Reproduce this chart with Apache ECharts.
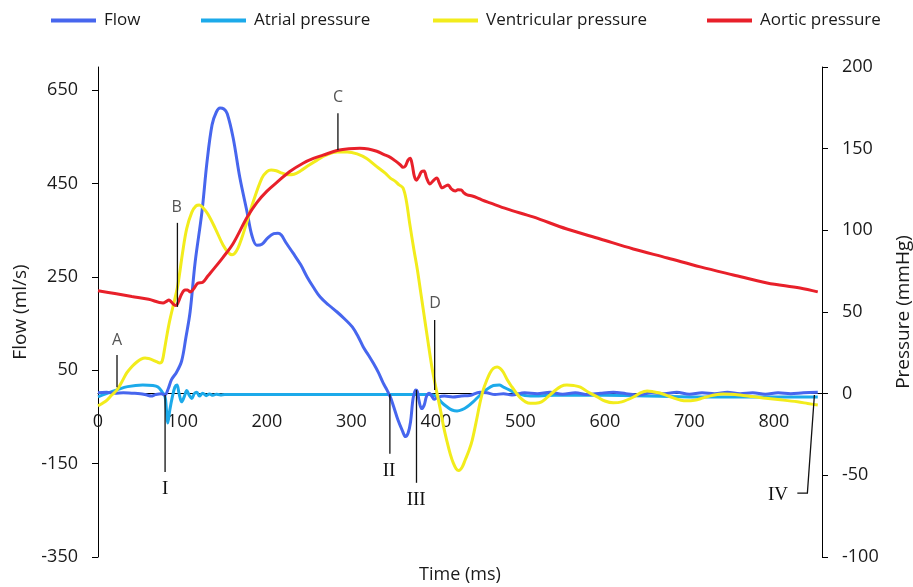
<!DOCTYPE html>
<html>
<head>
<meta charset="utf-8">
<script src="https://cdn.jsdelivr.net/npm/echarts@6/dist/echarts.min.js"></script>
<style>
  html, body { margin: 0; padding: 0; background: #fff; }
  #chart { width: 913px; height: 587px; }
</style>
</head>
<body>
<div id="chart"></div>
<script>
// Cardiac cycle: [time (ms), value] pairs
const flow = [
  [0,2],[10,3],[20,1],[30,2],[40,1],[50,0],[58,-3],[63,-5],[68,-2],[75,0],[79,-3],[83,10],
  [87,30],[93,46],[99,70],[104,120],[109,175],[115,282],[123,389],[129,496],[135,576],[140,603],
  [144.5,612],[149,610],[153,600],[160,548],[168,462],[176.5,389],[182,340],[188,318],[194,320],
  [201,334],[208,343],[213,344],[217,340],[222,325],[231,301],[240,276],[247.5,250],[255,228],
  [263,207],[273,190],[283,175],[292,160],[301,143],[308,122],[314,100],[320,83],[326,65],[332,45],
  [337.5,23],[342,8],[346,-7],[350,-28],[355,-56],[360,-78],[364,-92],[367,-85],[370,-60],[373,-10],
  [376,8],[378,5],[380,-15],[383,-32],[386,-25],[389,-5],[392,1],[395,-5],[398,-12],[402,-8],
  [410,-5],[420,-7],[430,-5],[440,-4],[452,3],[460,2],[470,-2],[480,0],[490,-3],[505,2],[520,0],
  [535,3],[550,-1],[565,2],[580,-2],[595,1],[610,3],[625,0],[640,-3],[655,2],[670,0],[685,3],
  [700,-1],[715,2],[730,0],[745,3],[760,0],[775,2],[790,-1],[805,2],[820,0],[835,2],[852,3]
];
const atrialPressure = [
  [0,-2],[10,0],[22.5,2.3],[35,4.3],[53,5.3],[65,5],[71,4.1],[76,1],[79.4,-2],[81,-10],[82.5,-18],
  [85,-10],[88,-2],[91,4],[93.5,5.3],[96,0],[99,-5],[102,-2],[105,2],[108,-1],[111,-3],[114,0],
  [117,0.8],[120,-1.5],[124,0.3],[128,-1.2],[132,-0.2],[136,-1],[140,-0.3],[145,-0.8],[150,-0.5],
  [200,-0.5],[250,-0.5],[300,-0.5],
  [350,-0.5],[392,-0.5],[396,-0.8],[401,-2],[407,-5.5],[413,-8],[419,-10],[425,-10.6],[431,-9.8],
  [437,-8],[444,-5],[452,-1],[460,2.5],[468,5],[475,5.3],[480,4],[488,2],[496,0],[512,-1.5],
  [540,-1],[600,-1],[700,-2],[800,-2],[852,-2]
];
const ventricularPressure = [
  [0,-7.5],[5,-6],[10.7,-3.9],[16,-1],[22.5,2.3],[28,7],[34,12.7],[40,16.5],[46,19.4],[51,21.2],
  [55.7,21.9],[60,21.5],[65,20.6],[70,19.4],[73,18.8],[76,20],[79,28],[82,37],[85,45],[90,56],
  [94,65],[97,75],[100,86],[105,101],[111,111],[116,115],[120,115.5],[124,114],[130,110],
  [138.6,101.4],[148,91],[154,86.5],[158.7,85],[162,86],[165.8,89.2],[170,95],[174,101.4],
  [183.6,117.3],[194,132],[200,136],[205,137],[211,136.5],[218,135],[225,134],[232,134.3],
  [240,136.5],[250,140],[259.4,143],[270,146],[283,148],[295,148],[306.7,146.8],[318,144],
  [330,139],[340,135],[346,132],[352,130],[356,128],[361,126],[365,118],[369,104],[374,88],
  [378,76],[382,62],[386,48],[390,34],[395,17],[399,6],[405,-9],[409,-20],[413,-29],[417,-37],
  [420.5,-42.4],[424,-46],[427,-47],[431,-45],[434.6,-40.6],[439,-35],[443,-28.4],[448.8,-14.3],
  [452,-6],[456,2.3],[460,8],[464,12.7],[468,15.5],[472.5,16.3],[476,15.5],[479.6,13.3],[485,8],
  [490,4.1],[495,0.5],[500,-2.6],[506,-5],[511.6,-5.9],[518,-5.8],[525,-5],[531,-2.6],[540,1.5],
  [548,4.5],[555,5.3],[563,5],[571,4],[580,1],[591,-2],[600,-4.5],[610,-5.6],[620,-5],[634,-2],
  [642,0.5],[650,1.6],[657,1.2],[665,0.4],[673,-1],[681,-2.6],[690,-4],[697,-4.4],[706,-4],
  [716.5,-2.6],[728,-1],[740,-0.2],[750,-0.3],[760,-0.8],[775,-1.8],[787.5,-2.6],[805,-3.6],
  [828,-5],[840,-6],[852,-7]
];
const aorticPressure = [
  [0,63],[20,61.3],[40,59.5],[60,57.8],[77,55.5],[81,56.5],[84,57.4],[87,56],[90,54.5],[92.5,54],
  [95,56],[99,61],[103,63.5],[106,63.5],[109,62.3],[113,64],[118,67.6],[124,68.2],[130,72],
  [138,77],[148,83.5],[160,92],[176.5,108],[188,117],[200,124],[212,129.5],[227,136],[242.7,141.1],
  [255,144],[266.4,146],[284,149],[297,150],[310,150.2],[320,149.8],[330,148.4],[338,146.5],
  [346,144.7],[352,142.5],[358,140],[361,138.6],[364,139.5],[367,143],[369.5,144.1],[372,140],
  [374.5,133],[377,130.7],[380,133],[383,136],[386,136.3],[389,132],[393,128.4],[397,130.5],
  [401,132],[404,129],[407.4,126],[411,127],[414.5,127.8],[418,125.5],[422.8,124.1],[426,124.8],
  [430,124.7],[433,123],[437,121.7],[443,121],[449,119.9],[455,118.5],[464,116.8],[484,113.1],
  [515,108.2],[555,100.8],[594.5,94.7],[633.6,88.6],[674,83.1],[713,77.6],[752,72.7],[792,67.8],
  [831,64.7],[852,62.3]
];

const timeTicks = [0, 100, 200, 300, 400, 500, 600, 700, 800];
const flowTicks = [-350, -150, 50, 250, 450, 650];

// Phase markers, in time / flow units: leader line path and text anchor
const markers = [
  { text: 'A',   kind: 'letter', path: [[22.5, 83], [22.5, 14]],   at: [22.5, 115] },
  { text: 'B',   kind: 'letter', path: [[94, 366], [94, 186]],     at: [93, 398] },
  { text: 'C',   kind: 'letter', path: [[284, 601], [284, 522]],   at: [284.2, 634] },
  { text: 'D',   kind: 'letter', path: [[398.5, 158], [398.5, 8]], at: [399, 194] },
  { text: 'I',   kind: 'roman',  path: [[79.4, -3], [79.4, -168]], at: [79.4, -204] },
  { text: 'II',  kind: 'roman',  path: [[345.5, -1], [345.5, -129]], at: [344.6, -166] },
  { text: 'III', kind: 'roman',  path: [[377, 8], [377, -191]],    at: [376.6, -228] },
  { text: 'IV',  kind: 'roman',  path: [[827.8, -213], [839.7, -213], [848, -3]], at: [805, -217] }
];

const colors = {
  flow: '#4766ee',
  atrial: '#1caaea',
  ventricular: '#f2ec1c',
  aortic: '#e8202a'
};

const textColor = '#1a1a1a';
const uiFont = 'Open Sans';

const chart = echarts.init(document.getElementById('chart'), null, { renderer: 'canvas' });

const legendBase = {
  top: 12,
  padding: 0,
  icon: 'rect',
  itemWidth: 45,
  itemHeight: 4,
  selectedMode: false,
  textStyle: { fontFamily: uiFont, fontSize: 17, color: textColor, padding: [0, 0, 0, 3] }
};

function lineSeries(name, data, color, yAxisIndex, z) {
  return {
    name: name,
    type: 'line',
    data: data,
    yAxisIndex: yAxisIndex,
    showSymbol: false,
    symbol: 'none',
    smooth: 0.35,
    z: z,
    lineStyle: { color: color, width: 3 },
    itemStyle: { color: color },
    silent: true
  };
}

chart.setOption({
  animation: false,
  backgroundColor: '#ffffff',
  textStyle: { fontFamily: uiFont },
  grid: { left: 98, right: 91, top: 67, bottom: 30, containLabel: false, outerBoundsMode: 'none' },
  legend: [
    Object.assign({}, legendBase, { left: 51, data: ['Flow'] }),
    Object.assign({}, legendBase, { left: 201, data: ['Atrial pressure'] }),
    Object.assign({}, legendBase, { left: 433, data: ['Ventricular pressure'] }),
    Object.assign({}, legendBase, { left: 707, data: ['Aortic pressure'] })
  ],
  xAxis: {
    type: 'value',
    min: 0,
    max: 857,
    name: 'Time (ms)',
    nameLocation: 'middle',
    nameGap: 9,
    nameTextStyle: { fontFamily: uiFont, fontSize: 18, color: textColor },
    axisLine: { show: true, onZero: true, onZeroAxisIndex: 0, lineStyle: { color: '#000', width: 1 } },
    axisTick: { show: false },
    splitLine: { show: false },
    axisLabel: {
      customValues: timeTicks,
      fontFamily: uiFont, fontSize: 18, color: textColor,
      // labels sit just under the zero line of the flow axis
      margin: -144
    }
  },
  yAxis: [
    {
      type: 'value',
      position: 'left',
      min: -350,
      max: 700,
      name: 'Flow (ml/s)',
      nameLocation: 'middle',
      nameRotate: 90,
      nameGap: 64,
      nameTextStyle: { fontFamily: uiFont, fontSize: 19, color: textColor },
      axisLine: { show: true, onZero: false, lineStyle: { color: '#000', width: 1 } },
      axisTick: { show: true, inside: false, length: 6, customValues: flowTicks, lineStyle: { color: '#000' } },
      splitLine: { show: false },
      axisLabel: {
        customValues: flowTicks,
        fontFamily: uiFont, fontSize: 18, color: textColor, margin: 20
      }
    },
    {
      type: 'value',
      position: 'right',
      min: -100,
      max: 200,
      interval: 50,
      name: 'Pressure (mmHg)',
      nameLocation: 'middle',
      nameRotate: 90,
      nameGap: 72,
      nameTextStyle: { fontFamily: uiFont, fontSize: 19, color: textColor },
      axisLine: { show: true, onZero: false, lineStyle: { color: '#000', width: 1 } },
      axisTick: { show: true, inside: false, length: 6, lineStyle: { color: '#000' } },
      splitLine: { show: false },
      axisLabel: { fontFamily: uiFont, fontSize: 18, color: textColor, margin: 20 }
    }
  ],
  series: [
    lineSeries('Atrial pressure', atrialPressure, colors.atrial, 1, 2),
    lineSeries('Flow', flow, colors.flow, 0, 3),
    lineSeries('Ventricular pressure', ventricularPressure, colors.ventricular, 1, 4),
    lineSeries('Aortic pressure', aorticPressure, colors.aortic, 1, 5),
    {
      type: 'custom',
      name: 'markers',
      xAxisIndex: 0,
      yAxisIndex: 0,
      silent: true,
      clip: false,
      z: 10,
      data: markers.map(m => m.at),
      renderItem: function (params, api) {
        const m = markers[params.dataIndex];
        const pts = m.path.map(p => api.coord(p));
        const lp = api.coord(m.at);
        const isRoman = m.kind === 'roman';
        return {
          type: 'group',
          children: [
            {
              type: 'polyline',
              shape: { points: pts },
              style: { stroke: '#111', lineWidth: 1.3, fill: null }
            },
            {
              type: 'text',
              x: lp[0],
              y: lp[1],
              style: {
                text: m.text,
                font: isRoman ? '19px "Liberation Serif", "DejaVu Serif", serif'
                              : '16px "Open Sans", sans-serif',
                fill: isRoman ? '#111' : '#555',
                align: 'center',
                verticalAlign: 'middle'
              }
            }
          ]
        };
      }
    }
  ]
});
</script>
</body>
</html>
